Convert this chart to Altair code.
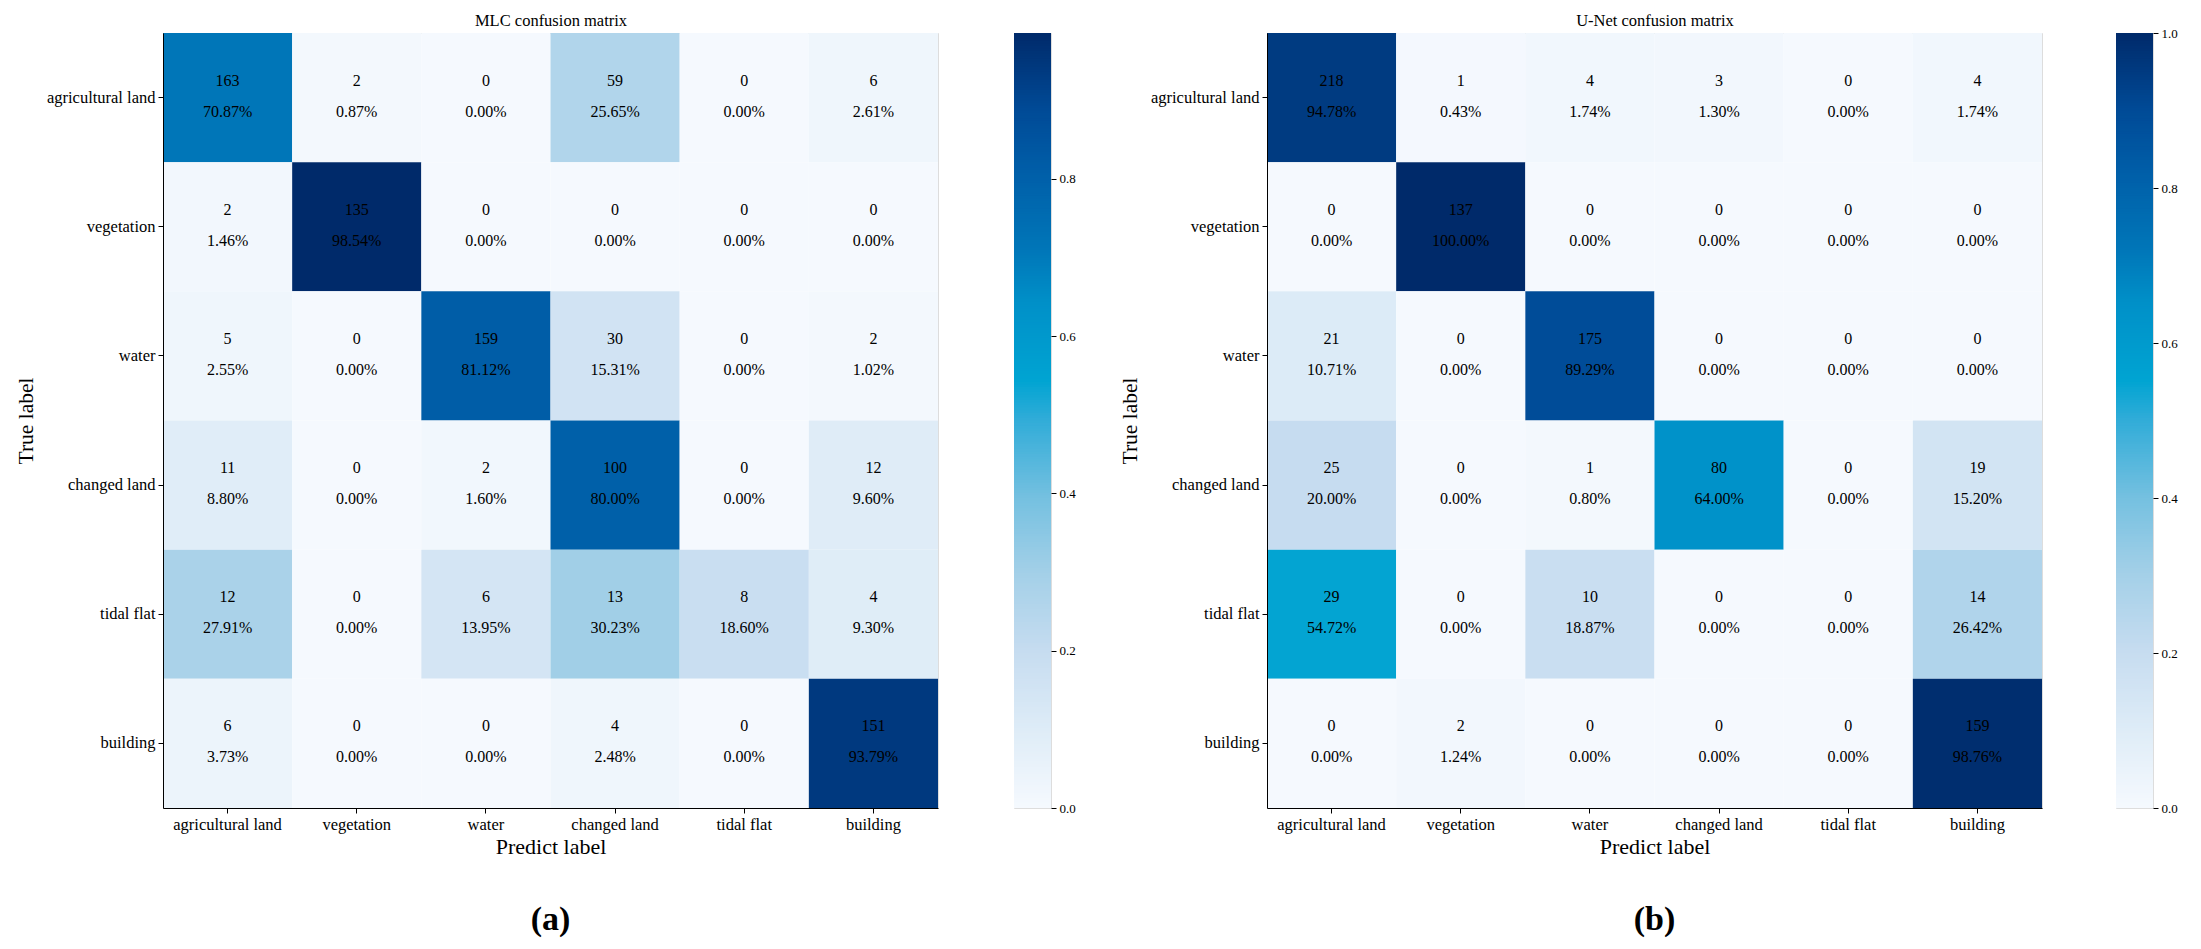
import altair as alt
import pandas as pd

FONT = "Liberation Serif"

classes = ["agricultural land", "vegetation", "water", "changed land", "tidal flat", "building"]

mlc_counts = [
    [163, 2, 0, 59, 0, 6],
    [2, 135, 0, 0, 0, 0],
    [5, 0, 159, 30, 0, 2],
    [11, 0, 2, 100, 0, 12],
    [12, 0, 6, 13, 8, 4],
    [6, 0, 0, 4, 0, 151],
]

unet_counts = [
    [218, 1, 4, 3, 0, 4],
    [0, 137, 0, 0, 0, 0],
    [21, 0, 175, 0, 0, 0],
    [25, 0, 1, 80, 0, 19],
    [29, 0, 10, 0, 0, 14],
    [0, 2, 0, 0, 0, 159],
]

titles = ["MLC confusion matrix", "U-Net confusion matrix"]
captions = ["(a)", "(b)"]
cbar_ticks = [0.0, 0.2, 0.4, 0.6, 0.8, 1.0]

# colormap stops (fraction of the colour-scale maximum -> colour)
cmap_pos = [0.0, 0.1, 0.2, 0.3, 0.4, 0.5, 0.55, 0.65, 0.72, 0.82, 0.9, 0.95, 1.0]
cmap_col = ["#f5f9fe", "#deecf7", "#c6dcf0", "#a4d0e8", "#74c0e0", "#30acd8", "#00a4d2",
            "#0090c8", "#0076b8", "#005ea8", "#004a96", "#003a80", "#002a6a"]

PLOT_W = 775
PLOT_H = 775
CBAR_W = 37


def panel(counts, title, caption, gap):
    rows = []
    for i, t in enumerate(classes):
        s = sum(counts[i])
        for j, p in enumerate(classes):
            c = counts[i][j]
            frac = c / s
            rows.append({"true": t, "pred": p, "count": str(c), "frac": frac,
                         "pct": f"{frac * 100:.2f}%"})
    df = pd.DataFrame(rows)
    vmax = float(df["frac"].max())
    cscale = alt.Scale(type="linear", domain=[p * vmax for p in cmap_pos], range=cmap_col,
                       interpolate="rgb", clamp=True)

    xsc = alt.Scale(paddingInner=0, paddingOuter=0)
    ysc = alt.Scale(paddingInner=0, paddingOuter=0)
    x_bottom = alt.X("pred:N", sort=classes, scale=xsc,
                     axis=alt.Axis(title="Predict label", orient="bottom", labelAngle=0,
                                   labelFont=FONT, labelFontSize=16.5, labelColor="black",
                                   labelPadding=3, tickSize=5, tickColor="black",
                                   domainColor="black", titleFont=FONT, titleFontSize=22,
                                   titleFontWeight="normal", titleColor="black",
                                   titlePadding=4))
    y_left = alt.Y("true:N", sort=classes, scale=ysc,
                   axis=alt.Axis(title="True label", labelFont=FONT, labelFontSize=16.5,
                                 labelColor="black", labelPadding=3, tickSize=5,
                                 tickColor="black", domainColor="black", titleFont=FONT,
                                 titleFontSize=21.5, titleFontWeight="normal",
                                 titleColor="black", titlePadding=9))
    base = alt.Chart(df).encode(x=x_bottom, y=y_left)
    rect = base.mark_rect().encode(color=alt.Color("frac:Q", scale=cscale, legend=None))
    txt_count = base.mark_text(dy=-17, font=FONT, fontSize=16, color="black").encode(
        x=alt.X("pred:N", sort=classes, scale=xsc,
                axis=alt.Axis(orient="top", title=title, labels=False, ticks=False,
                              domain=False, titleFont=FONT, titleFontSize=16.5,
                              titleFontWeight="normal", titleColor="black", titlePadding=5)),
        text="count:N")
    txt_pct = base.mark_text(dy=14, font=FONT, fontSize=16, color="black").encode(
        x=alt.X("pred:N", sort=classes, scale=xsc, axis=None),
        text="pct:N")
    heat = alt.layer(rect, txt_count, txt_pct).resolve_axis(x="independent").properties(
        width=PLOT_W, height=PLOT_H,
        title=alt.TitleParams(caption, orient="bottom", frame="group", anchor="middle",
                              font=FONT, fontSize=34, fontWeight="bold", color="black",
                              baseline="top", offset=45))

    n = 300
    step = vmax / n
    lo = [k * step for k in range(n)]
    cb_df = pd.DataFrame({"lo": lo, "hi": [v + step * 1.6 for v in lo]})
    cb_df["hi"] = cb_df["hi"].clip(upper=vmax)
    cbar = alt.Chart(cb_df).mark_rect().encode(
        y=alt.Y("lo:Q", scale=alt.Scale(domain=[0, vmax], nice=False, zero=True),
                axis=alt.Axis(orient="right", values=[v for v in cbar_ticks if v <= vmax + 1e-9],
                              format=".1f", title=None, labelFont=FONT, labelFontSize=13,
                              labelColor="black", tickSize=5, tickColor="black",
                              domain=False, grid=False, labelPadding=3)),
        y2="hi:Q",
        color=alt.Color("lo:Q", scale=cscale, legend=None),
    ).properties(width=CBAR_W, height=PLOT_H)

    return alt.hconcat(heat, cbar, spacing=gap).resolve_scale(color="independent")


p1 = panel(mlc_counts, titles[0], captions[0], 74)
p2 = panel(unet_counts, titles[1], captions[1], 72)

chart = alt.hconcat(p1, p2, spacing=42).resolve_scale(color="independent").properties(
    padding={"left": 6, "top": 3, "right": 2, "bottom": 2}
).configure_view(stroke="black", strokeWidth=1.2).configure(background="white")

chart.save("out.html", embed_options={"renderer": "svg", "actions": False})
